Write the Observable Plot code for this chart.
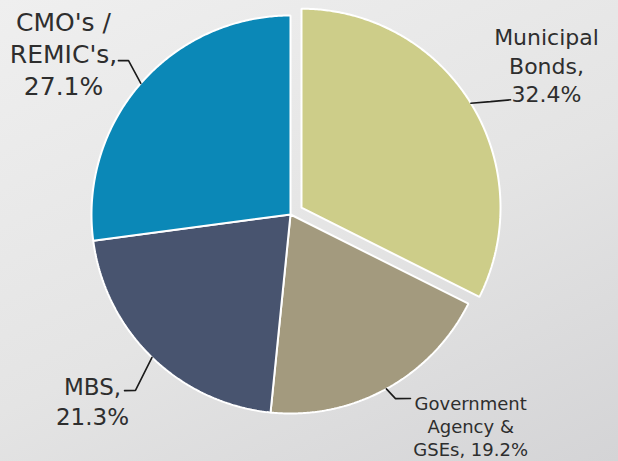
<!DOCTYPE html>
<html>
<head>
<meta charset="utf-8">
<script src="https://cdn.jsdelivr.net/npm/d3@7"></script>
<script src="https://cdn.jsdelivr.net/npm/@observablehq/plot@0.6"></script>
<style>
  html, body { margin: 0; padding: 0; }
  body { width: 618px; height: 461px; overflow: hidden;
         background: linear-gradient(155deg, #efefef 0%, #e4e4e4 55%, #d4d4d6 100%); }
  svg { display: block; background: transparent !important; }
</style>
</head>
<body>
<div id="chart"></div>
<script>
// ---- data ----
const categories = ["Municipal Bonds", "Government Agency & GSEs", "MBS", "CMO's / REMIC's"];
const shares = [32.4, 19.2, 21.3, 27.1];
const labelTexts = ["Municipal\nBonds,\n32.4%", "Government\nAgency &\nGSEs, 19.2%", "MBS,\n21.3%", "CMO's /\nREMIC's,\n27.1%"];
const colors = ["#cdcd89", "#a39a7e", "#48546f", "#0b88b7"];
const exploded = [true, false, false, false];

// ---- layout (polar, relative to pie centre; radius units) ----
const W = 618, H = 461, CX = 290, CY = 214, R = 199;
const explodeDist = 0.065;
const labelLayout = [
  {ang: 59.7, r: 1.426, size: 22},
  {ang: 139.5, r: 1.394, size: 18},
  {ang: 226.8, r: 1.365, size: 23},
  {ang: 305.5, r: 1.401, size: 25}
];
const leaderLayout = [
  [{ang: 60.7, r: 1.089}, {ang: 62.7, r: 1.182}],
  [{ang: 150.3, r: 1.065}, {ang: 146.9, r: 1.104}],
  [{ang: 221.4, r: 1.178}, {ang: 223.3, r: 1.216}],
  [{ang: 313.55, r: 1.123}, {ang: 311.8, r: 1.160}]
];

const rad = d => d * Math.PI / 180;
const polar = (a, r) => [Math.sin(a) * r, Math.cos(a) * r];

const arcs = d3.pie().sort(null).value(d => d.value)(
  categories.map((c, i) => ({category: c, value: shares[i], i}))
);

const slicePts = [];
const leaderPts = [];
const labels = [];
arcs.forEach(a => {
  const i = a.data.i;
  const mid = (a.startAngle + a.endAngle) / 2;
  const [ox, oy] = exploded[i] ? polar(mid, explodeDist) : [0, 0];
  slicePts.push({k: i, x: ox, y: oy});
  const n = Math.ceil((a.endAngle - a.startAngle) / rad(0.5));
  for (let j = 0; j <= n; j++) {
    const t = a.startAngle + (a.endAngle - a.startAngle) * j / n;
    const [x, y] = polar(t, 1);
    slicePts.push({k: i, x: x + ox, y: y + oy});
  }
  slicePts.push({k: i, x: ox, y: oy});
  // leader
  const [sx, sy] = polar(mid, 1);
  leaderPts.push({k: i, x: sx + ox, y: sy + oy});
  leaderLayout[i].forEach(p => {
    const [x, y] = polar(rad(p.ang), p.r);
    leaderPts.push({k: i, x: x + ox, y: y + oy});
  });
  const L = labelLayout[i];
  const [lx, ly] = polar(rad(L.ang), L.r);
  labels.push({text: labelTexts[i], x: lx + ox, y: ly + oy, size: L.size});
});

const chart = Plot.plot({
  width: W, height: H,
  margin: 0,
  x: {domain: [-CX / R, (W - CX) / R], range: [0, W], axis: null},
  y: {domain: [-(H - CY) / R, CY / R], range: [H, 0], axis: null},
  color: {domain: categories.map((c, i) => i), range: colors},
  style: {background: "transparent", fontFamily: "DejaVu Sans"},
  marks: [
    Plot.line(slicePts, {x: "x", y: "y", z: "k", fill: d => colors[d.k], stroke: "white", strokeWidth: 2, strokeLinejoin: "miter", curve: "linear"}),
    Plot.line(leaderPts, {x: "x", y: "y", z: "k", stroke: "#1a1a1a", strokeWidth: 1.6, strokeLinejoin: "miter"}),
    Plot.text(labels, {x: "x", y: "y", text: "text", fontSize: "size", lineHeight: 1.3, textAnchor: "middle", fill: "#2e2e2e"})
  ]
});
document.getElementById("chart").append(chart);
</script>
</body>
</html>
